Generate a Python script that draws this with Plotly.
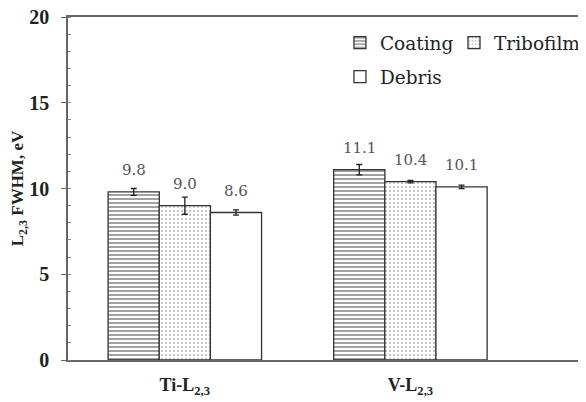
import plotly.graph_objects as go

categories = ["Ti-L<sub>2,3</sub>", "V-L<sub>2,3</sub>"]
series_names = ["Coating", "Tribofilm", "Debris"]
coating = [9.8, 11.1]
tribofilm = [9.0, 10.4]
debris = [8.6, 10.1]
coating_err = [0.2, 0.3]
tribofilm_err = [0.5, 0.07]
debris_err = [0.15, 0.1]
labels = {"Coating": ["9.8", "11.1"], "Tribofilm": ["9.0", "10.4"], "Debris": ["8.6", "10.1"]}

values = {"Coating": coating, "Tribofilm": tribofilm, "Debris": debris}
errors = {"Coating": coating_err, "Tribofilm": tribofilm_err, "Debris": debris_err}
patterns = {
    "Coating": dict(shape="-", fgcolor="#444444", bgcolor="white", size=4, solidity=0.5),
    "Tribofilm": dict(shape=".", fgcolor="#6f6f6f", bgcolor="white", size=4, solidity=0.22),
    "Debris": dict(shape="", bgcolor="white"),
}
legend_ids = {"Coating": "legend", "Tribofilm": "legend2", "Debris": "legend3"}
legend_pos = {"legend": (0.525, 0.924), "legend2": (0.747, 0.924), "legend3": (0.525, 0.825)}

serif_bold = "Liberation Serif"
serif_reg = "DejaVu Serif"
fig = go.Figure()
offsets = {"Coating": -1, "Tribofilm": 0, "Debris": 1}
bw = 0.227
for name in series_names:
    fig.add_trace(go.Bar(
        name=name, x=[0, 1], y=values[name],
        width=bw, legend=legend_ids[name],
        marker=dict(color="white", pattern=patterns[name], line=dict(color="#333333", width=1.3)),
        error_y=dict(type="data", array=errors[name], color="#222222", thickness=1.3, width=3),
    ))

fig.update_layout(barmode="group", bargap=0.32, bargroupgap=0)

for name in series_names:
    for i in range(2):
        xpos = i + offsets[name] * bw
        fig.add_annotation(x=xpos, y=values[name][i], text=labels[name][i], showarrow=False,
                           yshift=22, font=dict(family=serif_reg, size=15, color="#555555"))

legend_style = dict(xanchor="left", yanchor="middle", orientation="h",
                    font=dict(family=serif_reg, size=18.5, color="#222222"),
                    bgcolor="rgba(0,0,0,0)", itemwidth=30)
for lid, (lx, ly) in legend_pos.items():
    fig.update_layout({lid: dict(x=lx, y=ly, **legend_style)})

fig.update_layout(
    width=578, height=394,
    margin=dict(l=60, r=0, t=9, b=42),
    plot_bgcolor="white", paper_bgcolor="white",
    showlegend=True,
    xaxis=dict(range=[-0.518, 1.774], tickvals=[0, 1], ticktext=categories,
               showline=True, linecolor="#666666", linewidth=1.5, mirror=True,
               ticks="", showgrid=False, zeroline=False, automargin=False,
               ticklabelstandoff=8,
               tickfont=dict(family=serif_bold, size=18, color="#222222", weight="bold")),
    yaxis=dict(range=[0, 20], tickvals=[0, 5, 10, 15, 20],
               showline=True, linecolor="#666666", linewidth=1.5,
               ticks="outside", ticklen=5, tickcolor="#666666",
               minor=dict(dtick=1, ticks="inside", ticklen=3, tickcolor="#888888"),
               showgrid=False, zeroline=False, automargin=False,
               ticklabelstandoff=8, ticklabeloverflow="allow",
               tickfont=dict(family=serif_bold, size=20, color="#222222", weight="bold"),
               title=dict(text="L<sub>2,3</sub> FWHM, eV", standoff=6,
                          font=dict(family=serif_bold, size=17, color="#222222", weight="bold"))),
)

fig.write_html("out.html")
